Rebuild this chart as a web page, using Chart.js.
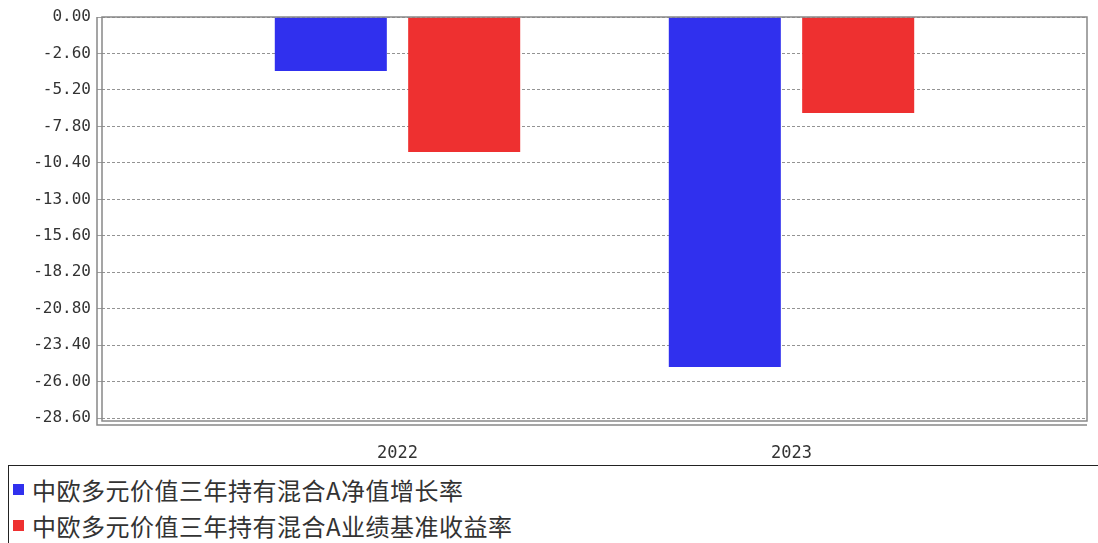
<!DOCTYPE html>
<html><head><meta charset="utf-8">
<script src="https://cdn.jsdelivr.net/npm/chart.js@4"></script>
<style>
body{margin:0;background:#fff;font-family:"Noto Sans CJK SC",sans-serif;}
#wrap{position:absolute;left:0;top:0;width:1098px;height:460px;}
#legend{position:absolute;left:8px;top:465px;width:1096px;height:80px;border:1.5px solid #222;box-sizing:border-box;font-size:24px;color:#333;}
.it{position:absolute;left:4px;display:flex;align-items:center;letter-spacing:0.5px;}
.sw{width:11px;height:11px;margin-right:8px;}
</style></head><body>
<div id="wrap"><canvas id="c" width="1098" height="460"></canvas></div>
<div id="legend"></div>
<script>
const categories=["2022","2023"];
const seriesNames=["中欧多元价值三年持有混合A净值增长率","中欧多元价值三年持有混合A业绩基准收益率"];
const navGrowth=[-3.85,-24.95];
const benchmark=[-9.63,-6.85];
const colors=["#3030ee","#ee3030"];
const tickValues=[0,-2.6,-5.2,-7.8,-10.4,-13,-15.6,-18.2,-20.8,-23.4,-26,-28.6];

const lg=document.getElementById('legend');
seriesNames.forEach((n,i)=>{const d=document.createElement('div');d.className='it';d.style.top=(i===0?6:42)+'px';
d.innerHTML='<span class="sw" style="background:'+colors[i]+'"></span><span>'+n+'</span>';lg.appendChild(d);});

const frame={id:'frame',afterDraw(ch){const a=ch.chartArea,x=ch.ctx;x.save();x.strokeStyle='#888';x.lineWidth=1.5;
x.strokeRect(a.left,a.top,a.right-a.left,a.bottom-a.top);
x.beginPath();x.moveTo(a.left-5,a.top);x.lineTo(a.left-5,a.bottom+4);x.lineTo(a.right,a.bottom+4);x.stroke();x.restore();}};

new Chart(document.getElementById('c'),{type:'bar',
data:{labels:categories,datasets:[
{label:seriesNames[0],data:navGrowth,backgroundColor:colors[0]},
{label:seriesNames[1],data:benchmark,backgroundColor:colors[1]}]},
options:{responsive:false,animation:false,
layout:{padding:{top:17,right:11,left:0,bottom:0}},
categoryPercentage:0.677,barPercentage:0.84,
plugins:{legend:{display:false},tooltip:{enabled:false}},
scales:{
x:{grid:{display:false},border:{display:false},afterFit(s){s.height=39;s._startValue=-0.75;s._valueRange=2.5;},ticks:{color:'#333',font:{size:17,family:'DejaVu Sans Mono'},padding:14}},
y:{min:-28.8,max:0,afterBuildTicks(s){s.ticks=tickValues.map(v=>({value:v}));},afterFit(s){s.width=102;},
border:{display:false,dash:[3,2]},
grid:{color:'#777',lineWidth:0.8,tickLength:5,drawTicks:true,tickColor:'#888'},
ticks:{color:'#333',font:{size:16,family:'DejaVu Sans Mono'},padding:6,callback:v=>v.toFixed(2)}}}},
plugins:[frame]});
</script></body></html>
